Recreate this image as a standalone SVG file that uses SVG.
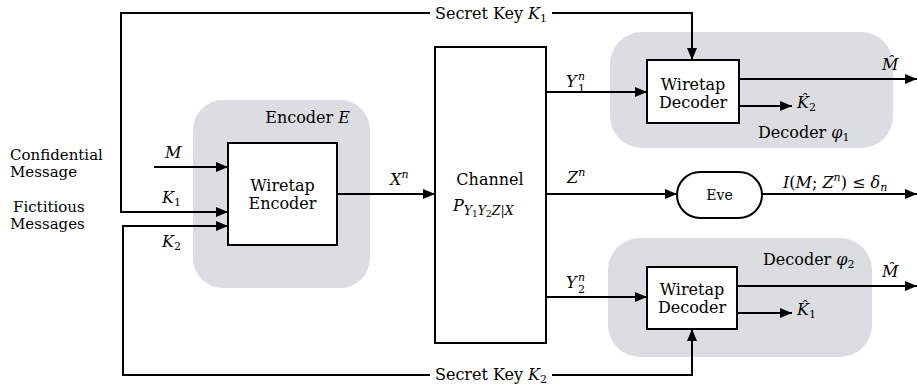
<svg xmlns="http://www.w3.org/2000/svg" width="917" height="388" viewBox="0 0 917 388">
<style>
text{font-family:"DejaVu Serif","Liberation Serif",serif;font-size:16px;fill:#000}
.i{font-style:italic}
.s{font-size:11px}
.ps{font-size:12.5px}
.ss{font-size:9px}
.lbl{font-size:15px}
.region{fill:#dcdde0;stroke:none}
.box{fill:#fff;stroke:#000;stroke-width:2}
.ln{fill:none;stroke:#000;stroke-width:2}
.m{text-anchor:middle}
</style>
<defs>
<marker id="arr" markerWidth="12" markerHeight="10" refX="12" refY="5" orient="auto" markerUnits="userSpaceOnUse">
<path d="M0,0 L12,5 L0,10 z" fill="#000"/>
</marker>
</defs>
<rect width="917" height="388" fill="#fff"/>

<g id="labels-left">
<text class="lbl" x="10" y="160">Confidential</text>
<text class="lbl" x="10" y="177">Message</text>
<text class="lbl" x="13" y="212">Fictitious</text>
<text class="lbl" x="10" y="229">Messages</text>
</g>

<g id="encoder">
<rect class="region" x="193" y="100" width="177" height="188" rx="30"/>
<text x="350" y="123" text-anchor="end">Encoder <tspan class="i">E</tspan></text>
<rect class="box" x="228" y="143" width="109" height="102"/>
<text class="m" x="282.5" y="191">Wiretap</text>
<text class="m" x="282.5" y="209">Encoder</text>
</g>

<g id="channel">
<rect class="box" x="435" y="47" width="111" height="296"/>
<text class="m" x="490" y="185">Channel</text>
<text x="453" y="211"><tspan class="i">P</tspan><tspan class="ps i" dy="4">Y</tspan><tspan class="ss" dy="2">1</tspan><tspan class="ps i" dy="-2">Y</tspan><tspan class="ss" dy="2">2</tspan><tspan class="ps i" dy="-2">Z</tspan><tspan class="ps">|</tspan><tspan class="ps i">X</tspan></text>
</g>

<g id="decoder1">
<rect class="region" x="610" y="32" width="283" height="116" rx="32"/>
<rect class="box" x="647" y="60" width="92" height="63"/>
<text class="m" x="693" y="90">Wiretap</text>
<text class="m" x="693" y="108">Decoder</text>
<text x="758" y="138">Decoder <tspan class="i">φ</tspan><tspan class="s" dy="3">1</tspan></text>
</g>

<g id="decoder2">
<rect class="region" x="608" y="238" width="264" height="119" rx="32"/>
<rect class="box" x="647" y="267" width="90" height="62"/>
<text class="m" x="692" y="295">Wiretap</text>
<text class="m" x="692" y="313">Decoder</text>
<text x="763" y="265">Decoder <tspan class="i">φ</tspan><tspan class="s" dy="3">2</tspan></text>
</g>

<g id="eve">
<rect class="box" x="677" y="172" width="85" height="46" rx="23"/>
<text class="m" x="719.5" y="200" style="font-size:14px">Eve</text>
</g>

<g id="connectors">
<path class="ln" d="M430,13 H121 V212 H228" marker-end="url(#arr)"/>
<path class="ln" d="M552,13 H692 V60" marker-end="url(#arr)"/>
<path class="ln" d="M430,375 H123 V226 H228" marker-end="url(#arr)"/>
<path class="ln" d="M552,375 H692 V329" marker-end="url(#arr)"/>
<path class="ln" d="M154,167 H228" marker-end="url(#arr)"/>
<path class="ln" d="M337,194 H435" marker-end="url(#arr)"/>
<path class="ln" d="M546,92 H647" marker-end="url(#arr)"/>
<path class="ln" d="M546,194 H677" marker-end="url(#arr)"/>
<path class="ln" d="M546,297 H647" marker-end="url(#arr)"/>
<path class="ln" d="M739,79 H917" marker-end="url(#arr)"/>
<path class="ln" d="M739,106 H792" marker-end="url(#arr)"/>
<path class="ln" d="M762,194 H917" marker-end="url(#arr)"/>
<path class="ln" d="M737,286 H917" marker-end="url(#arr)"/>
<path class="ln" d="M737,313 H792" marker-end="url(#arr)"/>
</g>

<g id="connector-labels">
<text class="m" x="491" y="19">Secret Key <tspan class="i">K</tspan><tspan class="s" dy="3">1</tspan></text>
<text class="m" x="491" y="380">Secret Key <tspan class="i">K</tspan><tspan class="s" dy="3">2</tspan></text>
<text class="i" x="165" y="158">M</text>
<text x="162" y="203"><tspan class="i">K</tspan><tspan class="s" dy="3">1</tspan></text>
<text x="162" y="247"><tspan class="i">K</tspan><tspan class="s" dy="3">2</tspan></text>
<text x="390" y="185"><tspan class="i">X</tspan><tspan class="s i" dy="-7">n</tspan></text>
<text class="i" x="566" y="87">Y</text>
<text class="s i" x="578" y="80">n</text>
<text class="s" x="578" y="92">1</text>
<text class="i" x="566" y="288">Y</text>
<text class="s i" x="578" y="281">n</text>
<text class="s" x="578" y="293">2</text>
<text x="567" y="183"><tspan class="i">Z</tspan><tspan class="s i" dy="-7">n</tspan></text>
<text x="783" y="188"><tspan class="i">I</tspan>(<tspan class="i">M</tspan>; <tspan class="i">Z</tspan><tspan class="s i" dy="-7">n</tspan><tspan dy="7">) ≤ </tspan><tspan class="i">δ</tspan><tspan class="s i" dy="3">n</tspan></text>
<text class="i" x="882" y="70">M̂</text>
<text class="i" x="882" y="277">M̂</text>
<text x="797" y="108"><tspan class="i">K̂</tspan><tspan class="s" dy="3">2</tspan></text>
<text x="797" y="315"><tspan class="i">K̂</tspan><tspan class="s" dy="3">1</tspan></text>
</g>
</svg>
